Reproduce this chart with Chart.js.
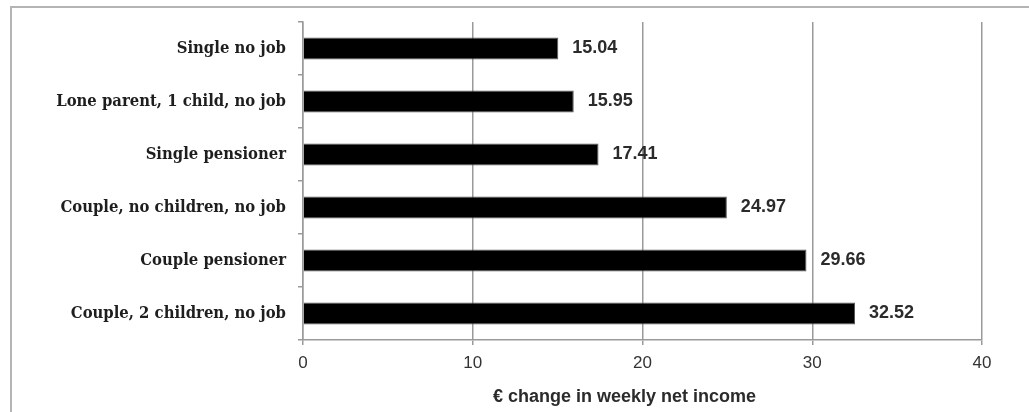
<!DOCTYPE html>
<html>
<head>
<meta charset="utf-8">
<script src="https://cdn.jsdelivr.net/npm/chart.js@4/dist/chart.umd.min.js"></script>
<style>
  html, body { margin: 0; padding: 0; background: #fff; }
  #wrap { width: 1029px; height: 412px; position: relative; }
</style>
</head>
<body>
<div id="wrap"><canvas id="c" width="1029" height="412"></canvas></div>
<script>
// Household types and their weekly net income change (EUR)
const categories = [
  'Single no job',
  'Lone parent, 1 child, no job',
  'Single pensioner',
  'Couple, no children, no job',
  'Couple pensioner',
  'Couple, 2 children, no job'
];
const weeklyChange = [15.04, 15.95, 17.41, 24.97, 29.66, 32.52];
const xTicks = [0, 10, 20, 30, 40];
const xTitle = '\u20ac change in weekly net income';

const serifBold = "'DejaVu Serif Condensed', 'DejaVu Serif', 'Liberation Serif', serif";
const sans = "'Liberation Sans', 'Open Sans', sans-serif";

// Thin grey frame around the chart
const framePlugin = {
  id: 'frame',
  beforeDraw(chart) {
    const ctx = chart.ctx;
    ctx.save();
    ctx.fillStyle = '#fff';
    ctx.fillRect(0, 0, chart.width, chart.height);
    ctx.strokeStyle = '#b4b4b4';
    ctx.lineWidth = 2;
    ctx.strokeRect(11, 7, chart.width + 20, chart.height + 20);
    ctx.restore();
  }
};

// Value printed to the right of each bar, plus the x-axis caption
const valueLabels = {
  id: 'valueLabels',
  afterDatasetsDraw(chart) {
    const ctx = chart.ctx;
    const meta = chart.getDatasetMeta(0);
    ctx.save();
    ctx.font = "bold 18px " + sans;
    ctx.fillStyle = '#2b2b2b';
    ctx.textAlign = 'left';
    ctx.textBaseline = 'middle';
    meta.data.forEach((bar, i) => {
      const v = chart.data.datasets[0].data[i];
      ctx.fillText(v.toFixed(2), bar.x + 14, bar.y);
    });

    const xs = chart.scales.x;
    ctx.font = "bold 18px " + sans;
    ctx.textAlign = 'center';
    ctx.fillText(xTitle, (xs.left + xs.right) / 2 - 18, 397);
    ctx.restore();
  }
};

new Chart(document.getElementById('c'), {
  type: 'bar',
  data: {
    labels: categories,
    datasets: [{
      data: weeklyChange,
      backgroundColor: '#000',
      borderColor: '#5a5a5a',
      borderWidth: 1,
      barPercentage: 0.83,
      categoryPercentage: 0.5
    }]
  },
  options: {
    indexAxis: 'y',
    responsive: false,
    animation: false,
    layout: { padding: { left: 0, top: 22, right: 47, bottom: 0 } },
    plugins: {
      legend: { display: false },
      tooltip: { enabled: false },
      title: { display: false }
    },
    scales: {
      x: {
        min: 0,
        max: 40,
        afterBuildTicks(scale) { scale.ticks = xTicks.map(v => ({ value: v })); },
        afterFit(scale) { scale.height = 72; },
        grid: {
          color: '#9a9a9a',
          lineWidth: 1.5,
          drawTicks: true,
          tickLength: 5,
          tickColor: '#9a9a9a'
        },
        border: { color: '#9a9a9a', width: 1.5 },
        ticks: {
          padding: 8,
          color: '#333',
          font: { family: sans, size: 17 }
        }
      },
      y: {
        afterFit(scale) { scale.width = 303; },
        grid: {
          drawOnChartArea: false,
          drawTicks: true,
          tickLength: 5,
          tickColor: '#9a9a9a',
          lineWidth: 1.5
        },
        border: { color: '#9a9a9a', width: 1.5 },
        ticks: {
          padding: 12,
          color: '#1e1e1e',
          font: { family: serifBold, size: 16.5, weight: 'bold' }
        }
      }
    }
  },
  plugins: [framePlugin, valueLabels]
});
</script>
</body>
</html>
